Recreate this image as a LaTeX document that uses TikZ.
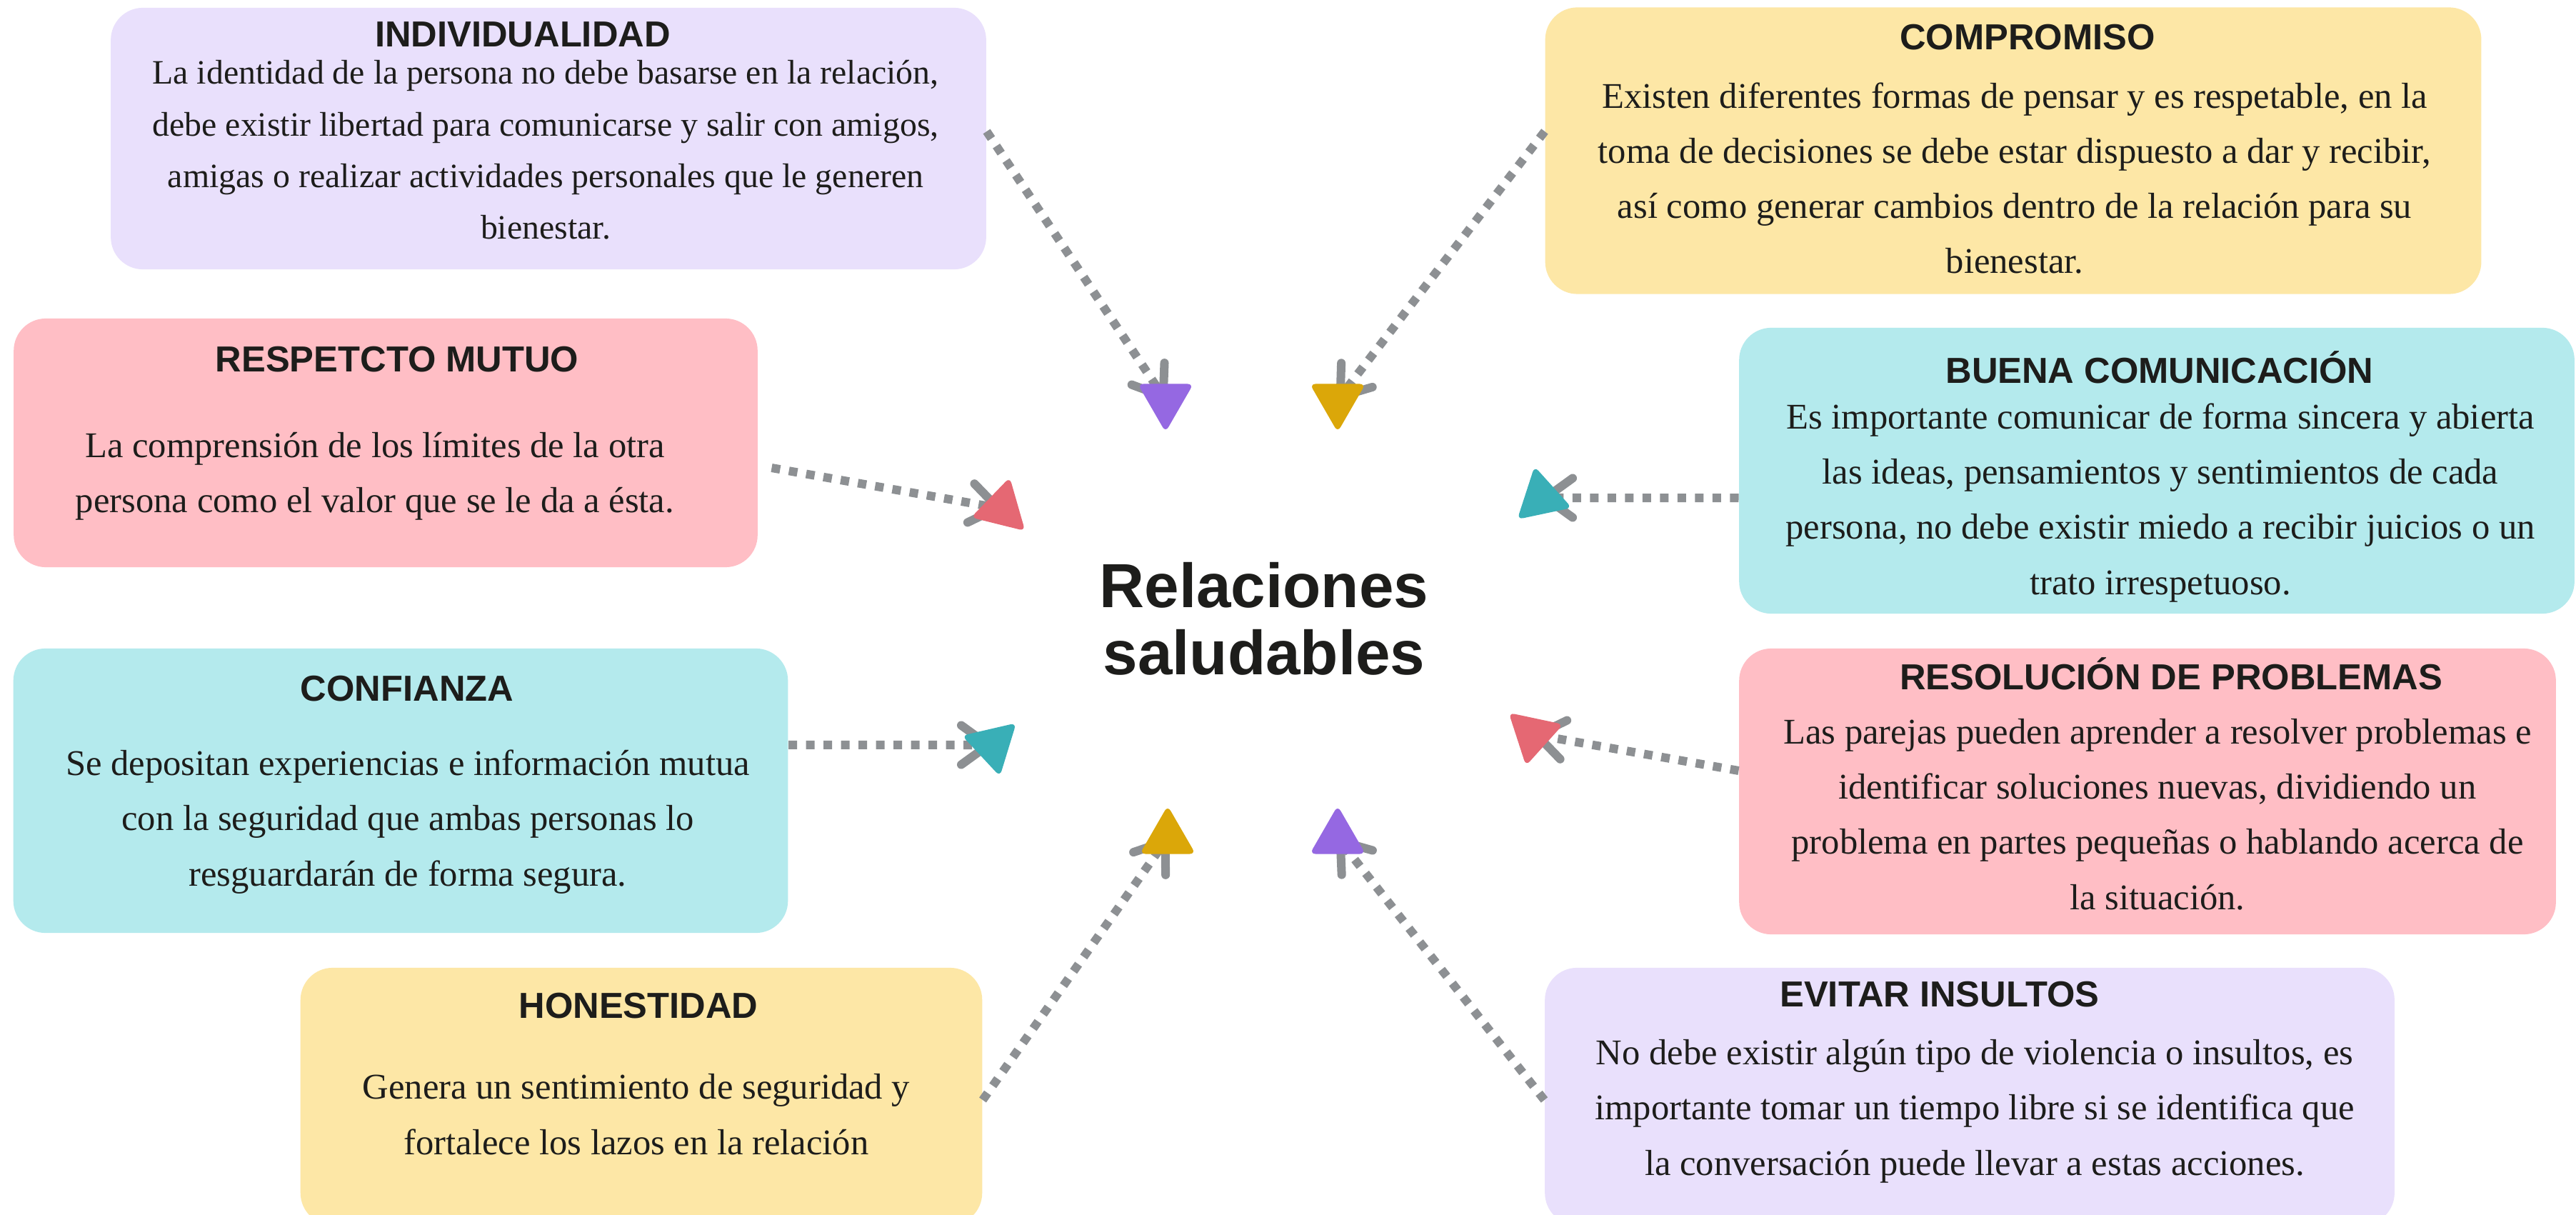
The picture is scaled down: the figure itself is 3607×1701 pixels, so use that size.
\documentclass[tikz,border=0pt]{standalone}
\usepackage{fontspec}
\setmainfont{Liberation Serif}
\newfontfamily\hdfont{Liberation Sans}
\usetikzlibrary{arrows.meta,shapes.geometric}
\definecolor{RLav}{HTML}{E9E0FC}
\definecolor{RPink}{HTML}{FFBEC5}
\definecolor{RCyan}{HTML}{B4EAED}
\definecolor{RYel}{HTML}{FDE7A6}
\definecolor{RInk}{HTML}{1D1D1B}
\definecolor{RGray}{HTML}{8D9093}
\definecolor{TPurple}{HTML}{9568E2}
\definecolor{TGold}{HTML}{DBA709}
\definecolor{TRed}{HTML}{E56873}
\definecolor{TTeal}{HTML}{39AFB7}

\begin{document}
\begin{tikzpicture}[x=0.01cm,y=-0.01cm,
  bx/.style={rounded corners=0.45cm,inner sep=0,draw=none},
  hd/.style={anchor=base,inner sep=0,text=RInk,
    font=\hdfont\bfseries\fontsize{14.4}{17}\selectfont},
  tx/.style={anchor=base,inner sep=0,align=center,text=RInk,
    font=\fontsize{14.4}{21.9}\selectfont},
  ln/.style={draw=RGray,line width=0.12cm,dash pattern=on 0.12cm off 0.125cm,
    -{Straight Barb[length=0.38cm,width=0.55cm,round]}},
  tri/.style={regular polygon,regular polygon sides=3,minimum size=0.9cm,
    inner sep=0,rounded corners=0.08cm}
]
  \path[fill=white,use as bounding box] (0,0) rectangle (3607,1701);

  % left column
  \node[bx,fill=RLav,minimum width=12.25cm,minimum height=3.66cm] (indiv) at (768,194) {};
  \node[bx,fill=RPink,minimum width=10.41cm,minimum height=3.48cm] (resp) at (540,620) {};
  \node[bx,fill=RCyan,minimum width=10.84cm,minimum height=3.98cm] (conf) at (561,1107) {};
  \node[bx,fill=RYel,minimum width=9.54cm,minimum height=3.60cm] (hon) at (898,1535) {};
  % right column
  \node[bx,fill=RYel,minimum width=13.10cm,minimum height=4.01cm] (comp) at (2819,211) {};
  \node[bx,fill=RCyan,minimum width=11.69cm,minimum height=4.00cm] (buena) at (3020,659) {};
  \node[bx,fill=RPink,minimum width=11.43cm,minimum height=4.00cm] (resol) at (3007,1108) {};
  \node[bx,fill=RLav,minimum width=11.89cm,minimum height=3.60cm] (evitar) at (2758,1535) {};

  \node[hd] (indivhd) at (732,66) {INDIVIDUALIDAD};
  \node[tx,font=\fontsize{13.6}{20.6}\selectfont] (indivtx) at (764,335)
    {La identidad de la persona no debe basarse en la relación,\\
     debe existir libertad para comunicarse y salir con amigos,\\
     amigas o realizar actividades personales que le generen\\bienestar.};
  \node[hd] (resphd) at (556,521) {RESPETCTO MUTUO};
  \node[tx] (resptx) at (525,718)
    {La comprensión de los límites de la otra\\persona como el valor que se le da a ésta.};
  \node[hd] (confhd) at (570,981) {CONFIANZA};
  \node[tx] (conftx) at (571,1240)
    {Se depositan experiencias e información mutua\\
     con la seguridad que ambas personas lo\\resguardarán de forma segura.};
  \node[hd] (honhd) at (894,1425) {HONESTIDAD};
  \node[tx] (hontx) at (891,1616)
    {Genera un sentimiento de seguridad y\\fortalece los lazos en la relación};

  \node[hd] (comphd) at (2839,70) {COMPROMISO};
  \node[tx] (comptx) at (2821,383)
    {Existen diferentes formas de pensar y es respetable, en la\\
     toma de decisiones se debe estar dispuesto a dar y recibir,\\
     así como generar cambios dentro de la relación para su\\bienestar.};
  \node[hd] (buenahd) at (3024,537) {BUENA COMUNICACIÓN};
  \node[tx] (buenatx) at (3025,832)
    {Es importante comunicar de forma sincera y abierta\\
     las ideas, pensamientos y sentimientos de cada\\
     persona, no debe existir miedo a recibir juicios o un\\trato irrespetuoso.};
  \node[hd] (resolhd) at (3040,965) {RESOLUCIÓN DE PROBLEMAS};
  \node[tx] (resoltx) at (3021,1273)
    {Las parejas pueden aprender a resolver problemas e\\
     identificar soluciones nuevas, dividiendo un\\
     problema en partes pequeñas o hablando acerca de\\la situación.};
  \node[hd] (evitarhd) at (2716,1409) {EVITAR INSULTOS};
  \node[tx] (evitartx) at (2765,1645)
    {No debe existir algún tipo de violencia o insultos, es\\
     importante tomar un tiempo libre si se identifica que\\
     la conversación puede llevar a estas acciones.};

  % centre
  \node[anchor=base,inner sep=0,align=center,text=RInk,
    font=\hdfont\bfseries\fontsize{24.8}{26.7}\selectfont] (rel) at (1770,944)
    {Relaciones\\saludables};

  % arrow ends
  \coordinate (t1) at (1632,560);
  \coordinate (t2) at (1873,560);
  \coordinate (t3) at (1403,712);
  \coordinate (t4) at (2158,697);
  \coordinate (t5) at (1390,1043);
  \coordinate (t6) at (2146,1028);
  \coordinate (t7) at (1635,1173);
  \coordinate (t8) at (1873,1173);

  \draw[ln] ([yshift=0.1cm]indiv.east) -- (t1);
  \draw[ln] ([yshift=0.27cm]comp.west) -- (t2);
  \draw[ln] ([shift={(0.19cm,-0.35cm)}]resp.east) -- (t3);
  \draw[ln] ([yshift=-0.38cm]buena.west) -- (t4);
  \draw[ln] ([yshift=0.64cm]conf.east) -- (t5);
  \draw[ln] ([yshift=0.29cm]resol.west) -- (t6);
  \draw[ln] ([yshift=-0.05cm]hon.east) -- (t7);
  \draw[ln] ([yshift=-0.05cm]evitar.west) -- (t8);

  \node[tri,fill=TPurple,rotate=180] (m1) at (t1) {};
  \node[tri,fill=TGold,rotate=180] (m2) at (t2) {};
  \node[tri,fill=TRed,rotate=-14] (m3) at (t3) {};
  \node[tri,fill=TTeal,rotate=12] (m4) at (t4) {};
  \node[tri,fill=TTeal,rotate=-47] (m5) at (t5) {};
  \node[tri,fill=TRed,rotate=48] (m6) at (t6) {};
  \node[tri,fill=TGold] (m7) at (t7) {};
  \node[tri,fill=TPurple] (m8) at (t8) {};
\end{tikzpicture}
\end{document}
